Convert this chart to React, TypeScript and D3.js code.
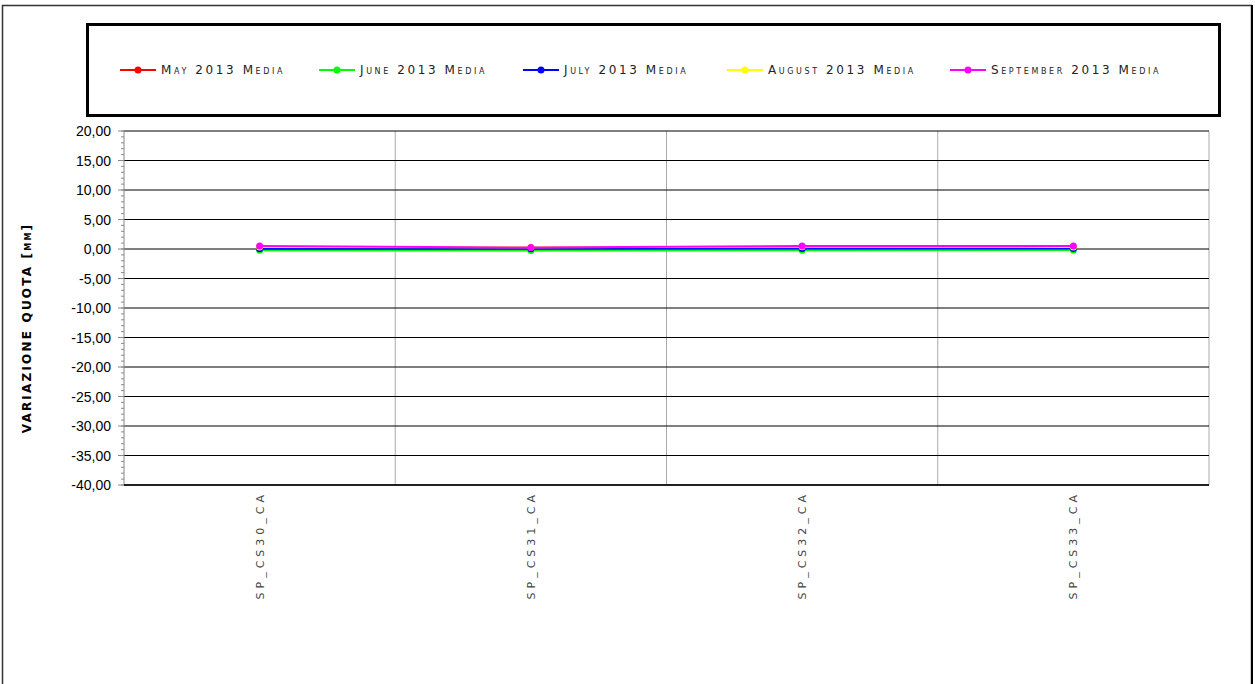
import React from "react";
import * as d3 from "d3";

const categories = ["SP_CS30_CA", "SP_CS31_CA", "SP_CS32_CA", "SP_CS33_CA"];
const seriesNames = ["May 2013 Media", "June 2013 Media", "July 2013 Media", "August 2013 Media", "September 2013 Media"];
const seriesColors = ["#ff0000", "#00ff00", "#0000ff", "#ffff00", "#ff00ff"];
const mayValues = [0.2, 0.15, 0.25, 0.2];
const juneValues = [-0.2, -0.25, -0.2, -0.15];
const julyValues = [0.05, 0.05, 0.1, 0.1];
const augustValues = [0.35, 0.3, 0.4, 0.35];
const septemberValues = [0.5, 0.25, 0.5, 0.5];
const yTicks = [20, 15, 10, 5, 0, -5, -10, -15, -20, -25, -30, -35, -40];
const legendX = [120, 319, 523, 727, 950];

export default function App() {
  const W = 1255, H = 684;
  const left = 124, right = 1209, top = 131, bottom = 485;
  const x = d3.scaleBand<string>().domain(categories).range([left, right]);
  const y = d3.scaleLinear().domain([-40, 20]).range([bottom, top]);
  const all = [mayValues, juneValues, julyValues, augustValues, septemberValues];
  const line = d3.line<number>().x((_, i) => (x(categories[i]) as number) + x.bandwidth() / 2).y((v) => y(v));
  const minor = d3.range(-40, 20.01, 1);
  const fmt = (v: number) => v.toFixed(2).replace(".", ",");
  const legendFont = "'DejaVu Sans', sans-serif";
  return (
    <svg width={W} height={H} style={{ position: "absolute", left: 0, top: 0, background: "#fff" }}>
      <rect x={2.5} y={5.5} width={1249} height={700} fill="#fff" stroke="#333" strokeWidth={1.5} />
      <line x1={1252} y1={5} x2={1252} y2={684} stroke="#000" strokeWidth={2} />
      <rect x={87.5} y={24.5} width={1132} height={91} fill="#fff" stroke="#000" strokeWidth={3} />
      {seriesNames.map((n, i) => (
        <g key={n}>
          <line x1={legendX[i]} x2={legendX[i] + 36} y1={70} y2={70} stroke={seriesColors[i]} strokeWidth={2} />
          <circle cx={legendX[i] + 18} cy={70} r={3.5} fill={seriesColors[i]} />
          <text x={legendX[i] + 41} y={74} fontFamily={legendFont} fontSize={12} letterSpacing={2.6} fill="#222" style={{ fontVariant: "small-caps" }}>{n}</text>
        </g>
      ))}
      {categories.slice(1).map((c) => (
        <line key={c} x1={x(c)} x2={x(c)} y1={top} y2={bottom} stroke="#aaa" strokeWidth={1} />
      ))}
      <line x1={right} x2={right} y1={top} y2={bottom} stroke="#aaa" strokeWidth={1} />
      {yTicks.map((t) => (
        <line key={t} x1={left} x2={right} y1={y(t)} y2={y(t)} stroke="#000" strokeWidth={1} />
      ))}
      <line x1={left} x2={left} y1={top} y2={bottom} stroke="#888" strokeWidth={1} />
      {minor.map((t) => (
        <line key={"m" + t} x1={left - 3} x2={left} y1={y(t)} y2={y(t)} stroke="#888" strokeWidth={1} />
      ))}
      {yTicks.map((t) => (
        <g key={"t" + t}>
          <line x1={left - 6} x2={left} y1={y(t)} y2={y(t)} stroke="#888" strokeWidth={1} />
          <text x={111} y={y(t) + 5} textAnchor="end" fontFamily="'Liberation Sans', Arial, sans-serif" fontSize={14} fill="#000">{fmt(t)}</text>
        </g>
      ))}
      <line x1={left} x2={right} y1={bottom} y2={bottom} stroke="#000" strokeWidth={1.5} />
      <text transform={`translate(31,328) rotate(-90)`} textAnchor="middle" fontFamily={legendFont} fontWeight="bold" fontSize={12} letterSpacing={2.2} style={{ fontVariant: "small-caps" }}>VARIAZIONE QUOTA  [mm]</text>
      {categories.map((c) => (
        <text key={c} transform={`translate(${(x(c) as number) + x.bandwidth() / 2 + 4},491) rotate(-90)`} textAnchor="end" fontFamily={legendFont} fontSize={11} letterSpacing={4} fill="#444">{c}</text>
      ))}
      {all.map((vals, i) => (
        <g key={seriesNames[i]}>
          <path d={line(vals) as string} fill="none" stroke={seriesColors[i]} strokeWidth={2} />
          {vals.map((v, j) => (
            <circle key={j} cx={(x(categories[j]) as number) + x.bandwidth() / 2} cy={y(v)} r={3.5} fill={seriesColors[i]} />
          ))}
        </g>
      ))}
    </svg>
  );
}
